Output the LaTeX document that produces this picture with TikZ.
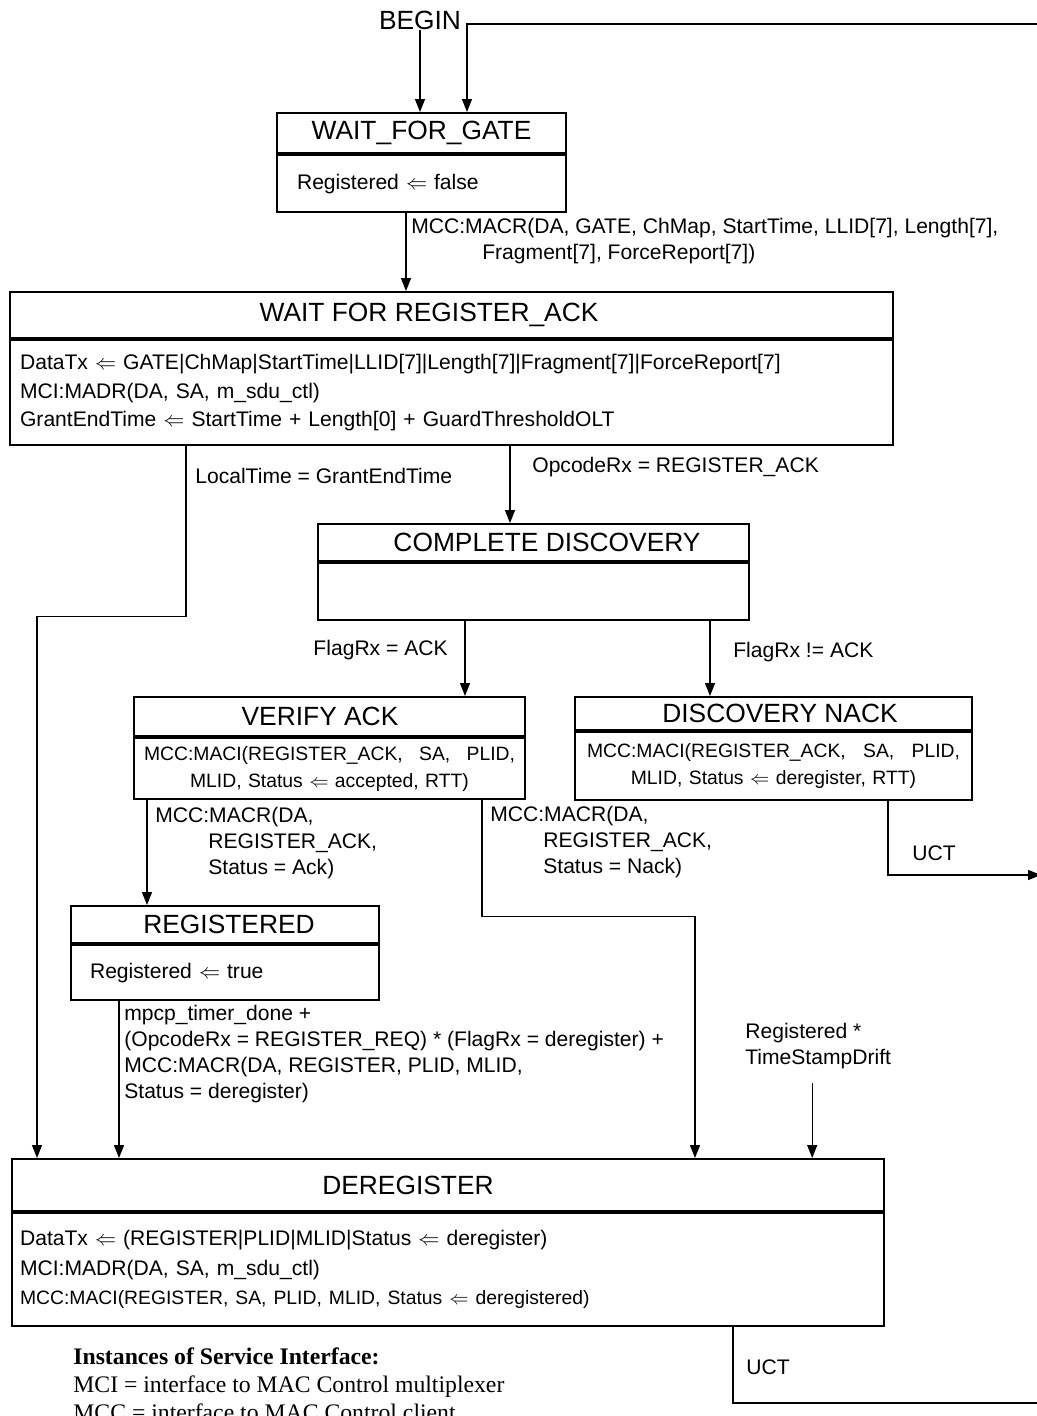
\documentclass[tikz,border=0pt]{standalone}
\usepackage{fontspec}
\setmainfont{Liberation Sans}
\newfontfamily\legendfont{Liberation Serif}
\usetikzlibrary{arrows.meta, calc}

\begin{document}
\begin{tikzpicture}[x=0.02cm, y=-0.02cm,
  hd/.style={draw, line width=1.2pt, anchor=north, inner sep=0pt},
  bd/.style={draw, line width=1.2pt, anchor=north, inner ysep=0pt, font=\fontsize{12}{16.4}\selectfont},
  ttl/.style={font=\fontsize{15}{18}\selectfont, inner sep=0pt},
  lbl/.style={font=\fontsize{12}{14.8}\selectfont, align=left, inner sep=0pt, anchor=west},
  arr/.style={line width=0.7pt, -{Triangle[length=0.26cm, width=0.2cm]}},
  ln/.style={line width=0.7pt}
]
  \useasboundingbox (0,0) rectangle (1037,1416);

  % start and return line
  \node[ttl] (begin) at (420,20) {BEGIN};
  \coordinate (ret) at (1037,24);

  % WAIT_FOR_GATE
  \node[hd, minimum width=5.78cm, minimum height=0.8cm,
    label={[ttl]center:WAIT\_FOR\_GATE}] (wfgh) at (421.5,112) {};
  \node[bd, text width=4.98cm, inner xsep=0.4cm, minimum height=1.14cm, align=left] (wfgb) at (wfgh.south)
    {Registered $\Leftarrow$ false};

  % WAIT FOR REGISTER_ACK
  \node[hd, minimum width=17.66cm, minimum height=0.92cm,
    label={[ttl,xshift=-0.45cm]center:WAIT FOR REGISTER\_ACK}] (wfrh) at (451.5,291) {};
  \node[bd, text width=17.26cm, inner xsep=0.2cm, minimum height=2.1cm, align=left] (wfrb) at (wfrh.south)
    {DataTx $\Leftarrow$ GATE|ChMap|StartTime|LLID[7]|Length[7]|Fragment[7]|ForceReport[7]\\
     MCI:MADR(DA, SA, m\_sdu\_ctl)\\
     GrantEndTime $\Leftarrow$ StartTime + Length[0] + GuardThresholdOLT};

  % COMPLETE DISCOVERY
  \node[hd, minimum width=8.62cm, minimum height=0.74cm,
    label={[ttl,xshift=0.27cm]center:COMPLETE DISCOVERY}] (cdh) at (533.5,523) {};
  \node[bd, minimum width=8.62cm, minimum height=1.14cm] (cdb) at (cdh.south) {};

  % VERIFY ACK
  \node[hd, minimum width=7.82cm, minimum height=0.78cm,
    label={[ttl,xshift=-0.19cm]center:VERIFY ACK}] (vah) at (329.5,696) {};
  \node[bd, text width=7.42cm, inner xsep=0.2cm, minimum height=1.22cm, align=center,
    font=\fontsize{11}{15.3}\selectfont] (vab) at (vah.south)
    {MCC:MACI(REGISTER\_ACK, \hfill SA, \hfill PLID,\\ MLID, Status $\Leftarrow$ accepted, RTT)};

  % DISCOVERY NACK
  \node[hd, minimum width=7.94cm, minimum height=0.66cm,
    label={[ttl,xshift=0.13cm]center:DISCOVERY NACK}] (dnh) at (773.5,696) {};
  \node[bd, text width=7.46cm, inner xsep=0.24cm, minimum height=1.36cm, align=center,
    font=\fontsize{11}{15.3}\selectfont] (dnb) at (dnh.south)
    {MCC:MACI(REGISTER\_ACK, \hfill SA, \hfill PLID,\\ MLID, Status $\Leftarrow$ deregister, RTT)};

  % REGISTERED
  \node[hd, minimum width=6.16cm, minimum height=0.74cm,
    label={[ttl,xshift=0.08cm]center:REGISTERED}] (regh) at (225,905) {};
  \node[bd, text width=5.4cm, inner xsep=0.38cm, minimum height=1.1cm, align=left] (regb) at (regh.south)
    {Registered $\Leftarrow$ true};

  % DEREGISTER
  \node[hd, minimum width=17.44cm, minimum height=1.04cm,
    label={[ttl,xshift=-0.8cm]center:DEREGISTER}] (dgh) at (448,1158) {};
  \node[bd, text width=17.12cm, inner xsep=0.16cm, minimum height=2.26cm, align=left,
    font=\fontsize{12}{16.8}\selectfont] (dgb) at (dgh.south)
    {DataTx $\Leftarrow$ (REGISTER|PLID|MLID|Status $\Leftarrow$ deregister)\\
     MCI:MADR(DA, SA, m\_sdu\_ctl)\\
     {\fontsize{11}{16.8}\selectfont MCC:MACI(REGISTER, SA, PLID, MLID, Status $\Leftarrow$ deregistered)}};

  % transitions
  \draw[arr] (begin.south) -- (begin.south |- wfgh.north);
  \draw[arr] (ret) -| ($(wfgh.north)+(45.5,0)$);

  \draw[arr] ($(wfgb.south)+(-15.5,0)$) coordinate (t1) -- (t1 |- wfrh.north);
  \node[lbl] (gatelbl) at (411,241) {MCC:MACR(DA, GATE, ChMap, StartTime, LLID[7], Length[7],\\
    \hspace*{1.42cm}Fragment[7], ForceReport[7])};

  \draw[arr] ($(wfrb.south)+(-265.5,0)$) -- ++(0,170) -| ($(dgh.north)+(-411,0)$);
  \node[lbl] (timelbl) at (195,476) {LocalTime = GrantEndTime};

  \draw[arr] ($(wfrb.south)+(58.5,0)$) coordinate (t2) -- (t2 |- cdh.north);
  \node[lbl] (ackrxlbl) at (532,467) {OpcodeRx = REGISTER\_ACK};

  \draw[arr] ($(cdb.south)+(-68.5,0)$) coordinate (t3) -- (t3 |- vah.north);
  \node[lbl, anchor=east] (flagok) at (448,650) {FlagRx = ACK};
  \draw[arr] ($(cdb.south)+(176.5,0)$) coordinate (t4) -- (t4 |- dnh.north);
  \node[lbl] (flagno) at (733,652) {FlagRx != ACK};

  \draw[arr] ($(vab.south)+(-182.5,0)$) coordinate (t5) -- (t5 |- regh.north);
  \node[lbl] (acklbl) at (155,843) {MCC:MACR(DA,\\
    \hspace*{1.06cm}REGISTER\_ACK,\\ \hspace*{1.06cm}Status = Ack)};

  \draw[arr] ($(vab.south)+(152.5,0)$) -- ++(0,116) -| ($(dgh.north)+(247,0)$);
  \node[lbl] (nacklbl) at (490,842) {MCC:MACR(DA,\\
    \hspace*{1.06cm}REGISTER\_ACK,\\ \hspace*{1.06cm}Status = Nack)};

  \coordinate (uct1) at (1041,875);
  \draw[arr] ($(dnb.south)+(114.5,0)$) |- (uct1);
  \node[lbl] (uct1lbl) at (912,853) {UCT};

  \draw[arr] ($(regb.south)+(-106,0)$) coordinate (t6) -- (t6 |- dgh.north);
  \node[lbl] (dereglbl) at (124,1054) {mpcp\_timer\_done +\\
    (OpcodeRx = REGISTER\_REQ) * (FlagRx = deregister) +\\
    MCC:MACR(DA, REGISTER, PLID, MLID,\\
    Status = deregister)};

  \node[lbl] (drift) at (745,1046) {Registered *\\ TimeStampDrift};
  \draw[arr] ($(drift.south)+(-6,14)$) coordinate (t7) -- (t7 |- dgh.north);

  \coordinate (uct2) at (1037,1403);
  \draw[ln] ($(dgb.south)+(285,0)$) |- (uct2);
  \node[lbl] (uct2lbl) at (746,1367) {UCT};

  % legend
  \node[lbl, font=\legendfont\fontsize{13.5}{15.9}\selectfont] (legend) at (73,1384)
    {\textbf{Instances of Service Interface:}\\
     MCI = interface to MAC Control multiplexer\\
     MCC = interface to MAC Control client};
\end{tikzpicture}
\end{document}
